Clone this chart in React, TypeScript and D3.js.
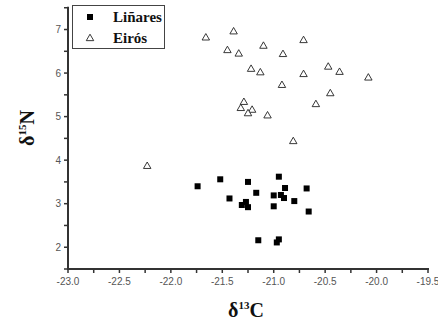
import { useEffect, useRef } from "react";
import * as d3 from "d3";

// Liñares (filled squares)
const linaresC = [-21.74, -21.52, -21.25, -20.95, -21.43, -21.17, -20.89, -20.68, -21.0, -20.93, -20.9, -20.8, -21.27, -21.31, -21.25, -21.0, -20.66, -21.15, -20.95, -20.97];
const linaresN = [3.4, 3.56, 3.5, 3.62, 3.12, 3.25, 3.36, 3.35, 3.19, 3.2, 3.13, 3.06, 3.04, 2.97, 2.92, 2.94, 2.82, 2.16, 2.18, 2.11];

// Eirós (open triangles)
const eirosC = [-21.66, -21.39, -21.45, -21.34, -21.1, -20.91, -20.71, -21.22, -21.13, -20.71, -20.92, -20.47, -20.36, -20.08, -20.45, -20.59, -21.29, -21.32, -21.21, -21.25, -21.06, -20.81, -22.23];
const eirosN = [6.82, 6.96, 6.53, 6.45, 6.63, 6.44, 6.76, 6.1, 6.02, 5.98, 5.73, 6.15, 6.03, 5.9, 5.54, 5.29, 5.34, 5.2, 5.16, 5.08, 5.03, 4.44, 3.87];

const xTicks = [-23.0, -22.5, -22.0, -21.5, -21.0, -20.5, -20.0, -19.5];
const yTicks = [2, 3, 4, 5, 6, 7];
const seriesNames = ["Liñares", "Eirós"];

export default function App() {
  const svgRef = useRef<SVGSVGElement>(null);

  useEffect(() => {
    if (!svgRef.current) return;
    const svg = d3.select(svgRef.current);
    svg.selectAll("*").remove();

    const width = 438;
    const height = 326;
    const margin = { top: 7.75, right: 10, bottom: 57, left: 68 };

    const x = d3.scaleLinear().domain([-23, -19.5]).range([margin.left, width - margin.right]);
    const y = d3.scaleLinear().domain([1.5, 7.5]).range([height - margin.bottom, margin.top]);

    svg.attr("width", width).attr("height", height).attr("viewBox", `0 0 ${width} ${height}`);
    svg.append("rect").attr("width", width).attr("height", height).attr("fill", "#fff");

    const axisColor = "#333";
    const labelColor = "#555";

    // x axis
    const xMinor = d3.range(-23, -19.49, 0.25);
    const xg = svg.append("g").attr("transform", `translate(0,${y(1.5)})`);
    xg.append("line").attr("x1", x(-23) - 1).attr("x2", x(-19.5) + 1)
      .attr("stroke", axisColor).attr("stroke-width", 2);
    xg.selectAll(".xt").data(xMinor).enter().append("line")
      .attr("x1", d => x(d)).attr("x2", d => x(d))
      .attr("y1", 0).attr("y2", 4)
      .attr("stroke", axisColor).attr("stroke-width", 1.5);
    xg.selectAll(".xl").data(xTicks).enter().append("text")
      .attr("x", d => x(d)).attr("y", 16)
      .attr("text-anchor", "middle")
      .style("font-family", "Arial, 'Liberation Sans', sans-serif")
      .style("font-size", "10px")
      .style("fill", labelColor)
      .text(d => d3.format(".1f")(d).replace("−", "-"));

    // y axis
    const yMinor = d3.range(1.5, 7.51, 0.5);
    const yg = svg.append("g").attr("transform", `translate(${x(-23)},0)`);
    yg.append("line").attr("y1", y(7.5) - 1).attr("y2", y(1.5) + 1)
      .attr("stroke", axisColor).attr("stroke-width", 2);
    yg.selectAll(".yt").data(yMinor).enter().append("line")
      .attr("x1", -4).attr("x2", 0)
      .attr("y1", d => y(d)).attr("y2", d => y(d))
      .attr("stroke", axisColor).attr("stroke-width", 1.5);
    yg.selectAll(".yl").data(yTicks).enter().append("text")
      .attr("x", -7).attr("y", d => y(d)).attr("dy", "0.35em")
      .attr("text-anchor", "end")
      .style("font-family", "Arial, 'Liberation Sans', sans-serif")
      .style("font-size", "10px")
      .style("fill", labelColor)
      .text(d => d);

    // axis titles
    const xt = svg.append("text")
      .attr("x", 246).attr("y", 317)
      .attr("text-anchor", "middle")
      .style("font-family", "'Liberation Serif', 'Times New Roman', serif")
      .style("font-weight", "bold")
      .style("font-size", "20px")
      .style("fill", "#111");
    xt.append("tspan").text("δ");
    xt.append("tspan").attr("dy", -8).style("font-size", "11px").text("13");
    xt.append("tspan").attr("dy", 8).text("C");

    const yt = svg.append("text")
      .attr("transform", `translate(34,128) rotate(-90)`)
      .attr("text-anchor", "middle")
      .style("font-family", "'Liberation Serif', 'Times New Roman', serif")
      .style("font-weight", "bold")
      .style("font-size", "20px")
      .style("fill", "#111");
    yt.append("tspan").text("δ");
    yt.append("tspan").attr("dy", -8).style("font-size", "11px").text("15");
    yt.append("tspan").attr("dy", 8).text("N");

    // Liñares squares
    const sq = 6;
    svg.append("g").selectAll("rect").data(d3.range(linaresC.length)).enter().append("rect")
      .attr("x", i => x(linaresC[i]) - sq / 2)
      .attr("y", i => y(linaresN[i]) - sq / 2)
      .attr("width", sq).attr("height", sq)
      .attr("fill", "#000");

    // Eirós triangles
    const tri = d3.symbol().type(d3.symbolTriangle).size(24);
    svg.append("g").selectAll("path").data(d3.range(eirosC.length)).enter().append("path")
      .attr("d", tri)
      .attr("transform", i => `translate(${x(eirosC[i])},${y(eirosN[i]) + 0.5})`)
      .attr("fill", "#fff")
      .attr("stroke", "#222")
      .attr("stroke-width", 0.9);

    // legend
    const lg = svg.append("g");
    lg.append("rect").attr("x", 72.5).attr("y", 5.5).attr("width", 92).attr("height", 43)
      .attr("fill", "#fff").attr("stroke", "#444").attr("stroke-width", 1);
    lg.append("rect").attr("x", 90 - sq / 2).attr("y", 17 - sq / 2).attr("width", sq).attr("height", sq).attr("fill", "#000");
    lg.append("path").attr("d", tri).attr("transform", "translate(90,38.5)")
      .attr("fill", "#fff").attr("stroke", "#222").attr("stroke-width", 0.9);
    lg.selectAll("text").data(seriesNames).enter().append("text")
      .attr("x", 113).attr("y", (_, i) => 17 + i * 21).attr("dy", "0.35em")
      .style("font-family", "'Liberation Serif', 'Times New Roman', serif")
      .style("font-weight", "bold")
      .style("font-size", "15px")
      .style("fill", "#111")
      .text(d => d);
  }, []);

  return (
    <div style={{ position: "absolute", left: 0, top: 0 }}>
      <svg ref={svgRef} style={{ display: "block" }}></svg>
    </div>
  );
}
